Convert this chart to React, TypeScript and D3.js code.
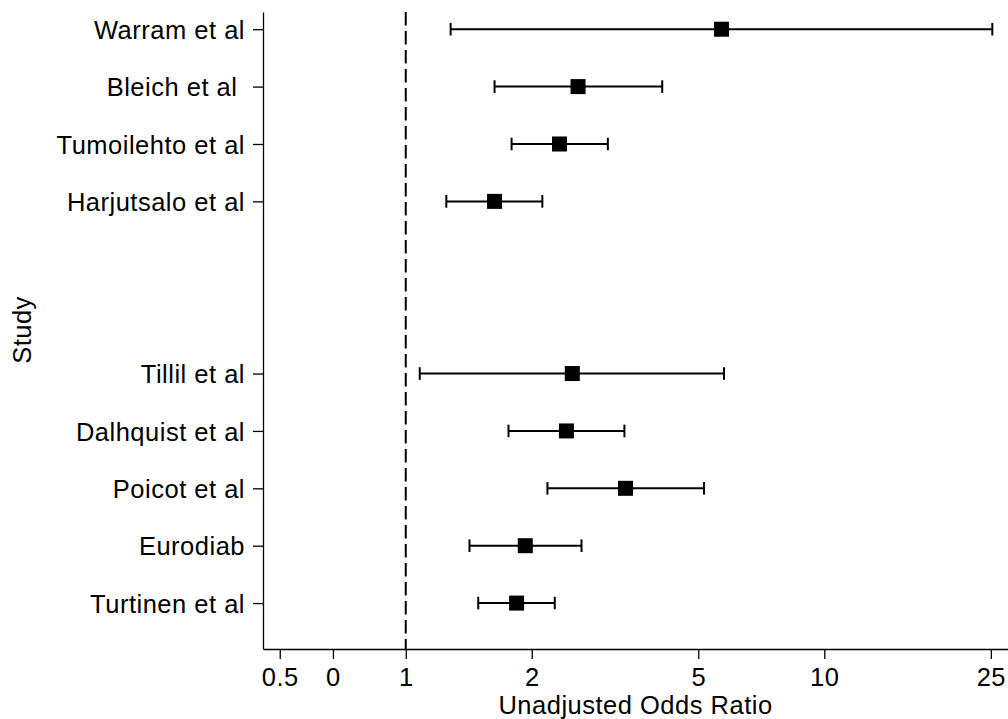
import React, { useEffect, useRef } from 'react';
import * as d3 from 'd3';

// study rows, top to bottom
const studies = ["Warram et al", "Bleich et al\u00a0", "Tumoilehto et al", "Harjutsalo et al", "Tillil et al", "Dalhquist et al", "Poicot et al", "Eurodiab", "Turtinen et al"];
const rowPos = [11, 10, 9, 8, 5, 4, 3, 2, 1];
const oddsRatio = [5.68, 2.58, 2.33, 1.63, 2.50, 2.42, 3.35, 1.93, 1.84];
const lowerCI = [1.28, 1.63, 1.79, 1.25, 1.08, 1.76, 2.18, 1.42, 1.49];
const upperCI = [25.2, 4.10, 3.04, 2.12, 5.76, 3.33, 5.16, 2.63, 2.27];

const tickValues = [0.5, 0.67, 1, 2, 5, 10, 25];
const tickLabels = ["0.5", "0", "1", "2", "5", "10", "25"];

const width = 1008;
const height = 719;
const font = '"Liberation Sans", Arial, Helvetica, sans-serif';
const fontSize = 25.5;
const spacing = "0.5px";

const ForestPlot = () => {
    const wrapper = useRef<SVGSVGElement | null>(null);

    useEffect(() => {
        const svg = d3.select(wrapper.current);
        svg.selectAll("*").remove();

        const data = studies.map((s, i) => ({
            study: s,
            pos: rowPos[i],
            or: oddsRatio[i],
            lo: lowerCI[i],
            hi: upperCI[i]
        }));

        const x = d3.scaleLog()
            .domain([0.456, 27.47])
            .range([263, width]);

        const y = d3.scaleLinear()
            .domain([0.2, 11.3])
            .range([649, 12]);

        // x axis
        const xAxis = svg.append("g")
            .attr("transform", `translate(0,${y(0.2)})`)
            .call(d3.axisBottom(x)
                .tickValues(tickValues)
                .tickFormat((d, i) => tickLabels[i])
                .tickSize(10)
                .tickSizeOuter(0)
                .tickPadding(9));
        xAxis.selectAll("path, line").attr("stroke", "#000").attr("stroke-width", 1.3);
        xAxis.selectAll("text")
            .attr("font-family", font)
            .attr("font-size", fontSize)
            .attr("letter-spacing", spacing)
            .attr("fill", "#000");

        // y axis
        const yAxis = svg.append("g")
            .attr("transform", `translate(${x.range()[0]},0)`)
            .call(d3.axisLeft(y)
                .tickValues(rowPos)
                .tickFormat((d, i) => studies[i])
                .tickSize(10)
                .tickSizeOuter(0)
                .tickPadding(8));
        yAxis.selectAll("path, line").attr("stroke", "#000").attr("stroke-width", 1.3);
        yAxis.selectAll("text")
            .attr("font-family", font)
            .attr("font-size", fontSize)
            .attr("letter-spacing", spacing)
            .attr("fill", "#000")
            .attr("dy", "0.36em")
            .style("white-space", "pre");

        // reference line at OR = 1
        svg.append("line")
            .attr("x1", x(1))
            .attr("x2", x(1))
            .attr("y1", y(11.3))
            .attr("y2", y(0.2))
            .attr("stroke", "#000")
            .attr("stroke-width", 2)
            .attr("stroke-dasharray", "13.5,5.5");

        const rows = svg.append("g")
            .selectAll("g")
            .data(data)
            .join("g");

        rows.append("line")
            .attr("x1", d => x(d.lo))
            .attr("x2", d => x(d.hi))
            .attr("y1", d => y(d.pos))
            .attr("y2", d => y(d.pos))
            .attr("stroke", "#000")
            .attr("stroke-width", 2);

        rows.selectAll(".cap")
            .data(d => [d.lo, d.hi].map(v => ({ v, pos: d.pos })))
            .join("line")
                .attr("class", "cap")
                .attr("x1", d => x(d.v))
                .attr("x2", d => x(d.v))
                .attr("y1", d => y(d.pos) - 6.3)
                .attr("y2", d => y(d.pos) + 6.3)
                .attr("stroke", "#000")
                .attr("stroke-width", 2);

        rows.append("rect")
            .attr("x", d => x(d.or) - 7.5)
            .attr("y", d => y(d.pos) - 7.5)
            .attr("width", 15)
            .attr("height", 15)
            .attr("fill", "#000");

        // axis titles
        svg.append("text")
            .attr("x", (x.range()[0] + x.range()[1]) / 2)
            .attr("y", 714)
            .attr("text-anchor", "middle")
            .attr("font-family", font)
            .attr("font-size", fontSize)
            .attr("letter-spacing", spacing)
            .text("Unadjusted Odds Ratio");

        svg.append("text")
            .attr("transform", "translate(31,330) rotate(-90)")
            .attr("text-anchor", "middle")
            .attr("font-family", font)
            .attr("font-size", fontSize)
            .attr("letter-spacing", spacing)
            .text("Study");
    }, []);

    return (
        <svg
            ref={wrapper}
            width={width}
            height={height}
            style={{ position: "absolute", left: 0, top: 0, background: "#fff" }}
        />
    );
};

export default function App() {
    return <ForestPlot />;
}
